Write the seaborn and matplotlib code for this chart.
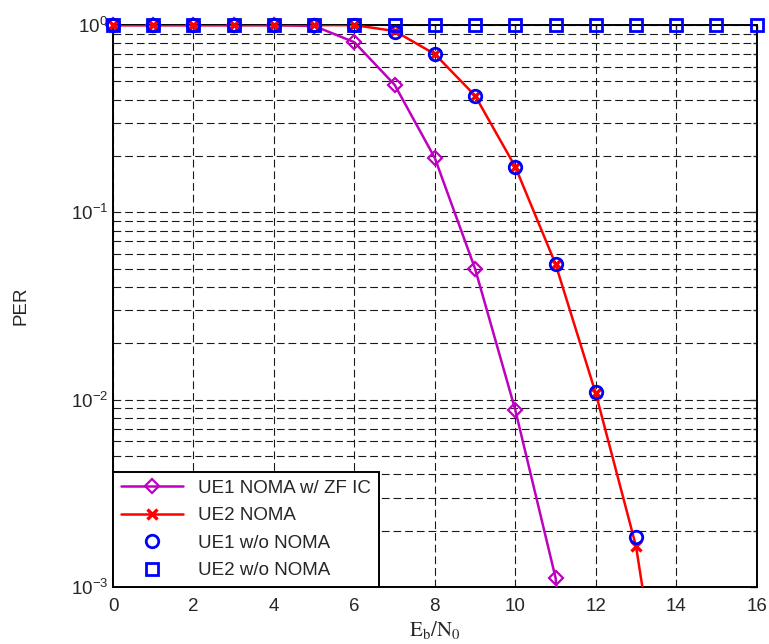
import numpy as np
import pandas as pd
import matplotlib
matplotlib.use("Agg")
import matplotlib.pyplot as plt
from matplotlib.lines import Line2D
import seaborn as sns

# Eb/N0 points
snr = [0, 1, 2, 3, 4, 5, 6, 7, 8, 9, 10, 11, 12, 13, 14, 15, 16]

# UE1 NOMA w/ ZF IC (drops below 1e-3 after 11 dB)
ue1_zf_x = [0, 1, 2, 3, 4, 5, 6, 7, 8, 9, 10, 11, 12]
ue1_zf = [1.0, 1.0, 1.0, 1.0, 1.0, 0.99, 0.81, 0.48, 0.195, 0.050, 0.0088, 0.00112, 1e-5]

# UE2 NOMA
ue2_noma_x = [0, 1, 2, 3, 4, 5, 6, 7, 8, 9, 10, 11, 12, 13, 14]
ue2_noma = [1.0, 1.0, 1.0, 1.0, 1.0, 1.0, 1.0, 0.93, 0.70, 0.42, 0.175, 0.053, 0.0108, 0.00165, 7e-5]

# UE1 w/o NOMA
ue1_wo_x = [0, 1, 2, 3, 4, 5, 6, 7, 8, 9, 10, 11, 12, 13]
ue1_wo = [1.0, 1.0, 1.0, 1.0, 1.0, 1.0, 1.0, 0.92, 0.70, 0.42, 0.175, 0.053, 0.0110, 0.00185]

# UE2 w/o NOMA
ue2_wo = [1.0] * len(snr)

labels = ["UE1 NOMA w/ ZF IC", "UE2 NOMA", "UE1 w/o NOMA", "UE2 w/o NOMA"]
magenta = "#BF00BF"
red = "#FF0000"
blue = "#0000FF"

sns.set_style("white")
plt.rcParams["font.family"] = ["Liberation Sans", "DejaVu Sans"]
plt.rcParams["mathtext.fontset"] = "stix"

fig = plt.figure(figsize=(7.69, 6.44), dpi=100)
ax = fig.add_axes([0.147, 0.0885, 0.837, 0.8725])
ax.set_yscale("log")

df1 = pd.DataFrame({"x": ue1_zf_x, "y": ue1_zf})
df2 = pd.DataFrame({"x": ue2_noma_x, "y": ue2_noma})
df3 = pd.DataFrame({"x": ue1_wo_x, "y": ue1_wo})
df4 = pd.DataFrame({"x": snr, "y": ue2_wo})

lw = 1.8
# lines (clipped to the axes)
sns.lineplot(data=df1, x="x", y="y", ax=ax, color=magenta, linewidth=lw, zorder=3)
sns.lineplot(data=df2, x="x", y="y", ax=ax, color=red, linewidth=lw, zorder=4)

# markers (not clipped, so the ones on 10^0 show fully)
vis = lambda d: d[d["y"] >= 1e-3]
sns.lineplot(data=vis(df1), x="x", y="y", ax=ax, linestyle="none", marker="D",
             markersize=7.5, markerfacecolor="none", markeredgecolor=magenta,
             markeredgewidth=1.6, color=magenta, clip_on=False, zorder=5)
sns.lineplot(data=vis(df2), x="x", y="y", ax=ax, linestyle="none", marker="x",
             markersize=7, markeredgecolor=red, markeredgewidth=2.4,
             color=red, clip_on=False, zorder=6)
sns.lineplot(data=vis(df3), x="x", y="y", ax=ax, linestyle="none", marker="o",
             markersize=9, markerfacecolor="none", markeredgecolor=blue,
             markeredgewidth=2.0, color=blue, clip_on=False, zorder=7)
sns.lineplot(data=df4, x="x", y="y", ax=ax, linestyle="none", marker="s",
             markersize=8, markerfacecolor="none", markeredgecolor=blue,
             markeredgewidth=2.0, color=blue, clip_on=False, zorder=8)

ax.set_xlim(0, 16)
ax.set_ylim(1e-3, 1)
ax.set_xticks(np.arange(0, 17, 2))
dash = (0, (7, 3.5))
ax.grid(True, which="both", axis="y", color="#1a1a1a", linestyle=dash, linewidth=0.8)
ax.grid(True, which="major", axis="x", color="#1a1a1a", linestyle=dash, linewidth=0.8)
ax.tick_params(which="both", direction="in", top=True, right=True, labelsize=13.5)
ax.tick_params(which="major", length=5, width=1.0)
ax.tick_params(which="minor", length=3, width=1.0)
ax.tick_params(axis="x", pad=8)
for s in ax.spines.values():
    s.set_color("black")
    s.set_linewidth(1.4)

ax.set_xlabel(r"$\mathrm{E_b/N_0}$", fontsize=15, labelpad=3)
ax.set_ylabel("PER", fontsize=13.5, labelpad=30)

handles = [
    Line2D([], [], color=magenta, lw=lw, marker="D", markersize=7.5, mfc="none", mec=magenta, mew=1.6),
    Line2D([], [], color=red, lw=lw, marker="x", markersize=7, mec=red, mew=2.4),
    Line2D([], [], color=blue, ls="none", marker="o", markersize=9, mfc="none", mec=blue, mew=2.0),
    Line2D([], [], color=blue, ls="none", marker="s", markersize=8, mfc="none", mec=blue, mew=2.0),
]
leg = ax.legend(handles, labels, loc="lower left", bbox_to_anchor=(0, 0), borderaxespad=0,
                fontsize=13.5, fancybox=False, edgecolor="black", framealpha=1,
                handlelength=3.3, handletextpad=0.8, labelspacing=0.55, borderpad=0.42)
leg.get_frame().set_linewidth(1.4)
leg.set_zorder(10)

fig.savefig("out.png", dpi=100)
